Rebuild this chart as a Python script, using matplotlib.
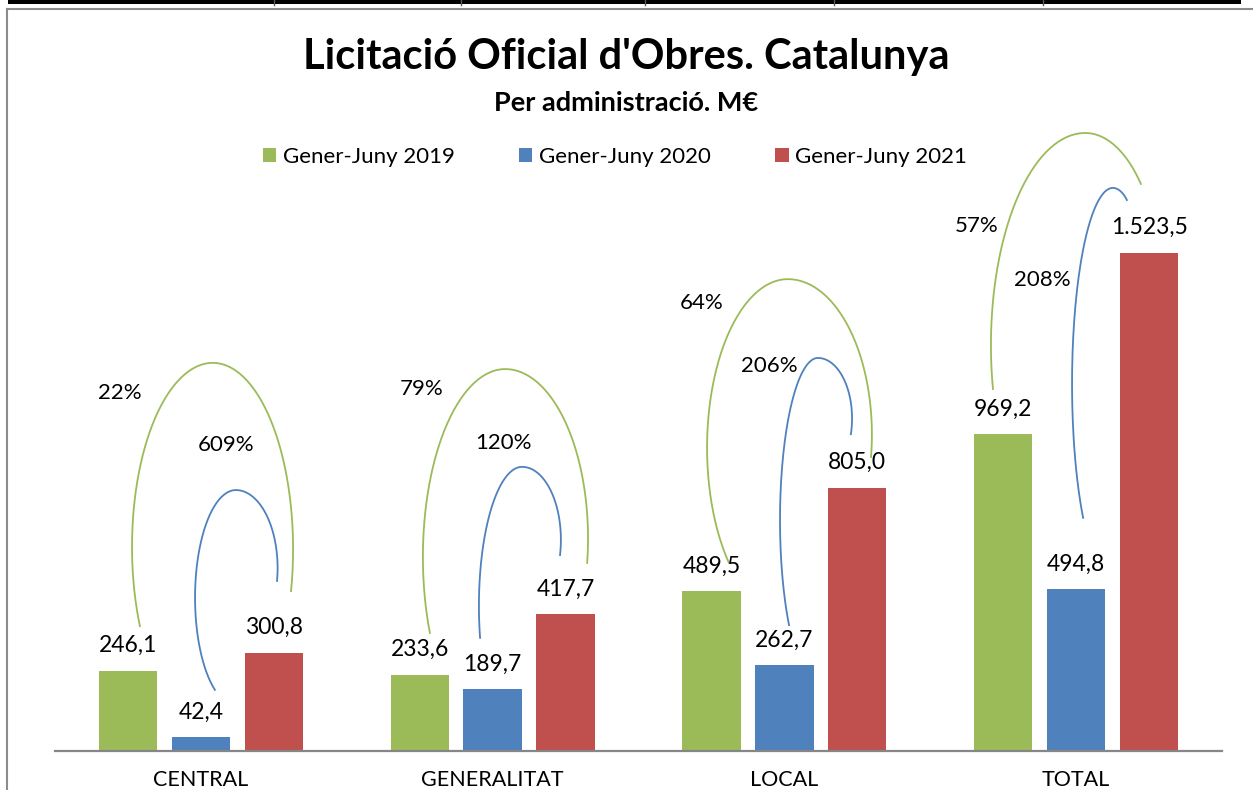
import numpy as np
import matplotlib.pyplot as plt
from matplotlib.lines import Line2D
from matplotlib.patches import Rectangle

plt.rcParams['font.family'] = ['Lato', 'DejaVu Sans']

# Data
categories = ['CENTRAL', 'GENERALITAT', 'LOCAL', 'TOTAL']
series_names = ['Gener-Juny 2019', 'Gener-Juny 2020', 'Gener-Juny 2021']
values_2019 = [246.1, 233.6, 489.5, 969.2]
values_2020 = [42.4, 189.7, 262.7, 494.8]
values_2021 = [300.8, 417.7, 805.0, 1523.5]
colors = ['#9BBB59', '#4F81BD', '#C0504D']

# Arc shapes (x relative to the group centre, y in M€):
# start, peak, end, left extent, right extent, right side goes past its widest point
green_arcs = [
    ((-0.209, 382), (0.041, 1187), (0.309, 489), -0.236, 0.316, True),
    ((-0.215, 361), (0.043, 1168), (0.324, 575), -0.239, 0.327, True),
    ((-0.190, 575), (0.012, 1443), (0.297, 899), -0.265, 0.300, True),
    ((-0.285, 1107), (0.031, 1890), (0.222, 1734), -0.292, 0.288, False),
]
blue_arcs = [
    ((0.048, 187), (0.120, 798), (0.261, 520), -0.020, 0.263, True),
    ((-0.043, 346), (0.101, 869), (0.231, 599), -0.047, 0.234, True),
    ((0.016, 385), (0.115, 1202), (0.228, 969), -0.015, 0.232, True),
    ((0.024, 713), (0.126, 1722), (0.174, 1685), -0.014, 0.202, False),
]
# where the growth labels sit (x relative to group centre, y in M€)
green_pct_pos = [(-0.277, 1095), (-0.242, 1107), (-0.282, 1370), (-0.340, 1606)]
blue_pct_pos = [(0.086, 936), (0.036, 942), (-0.053, 1177), (-0.117, 1440)]


def fmt(v):
    s = f'{v:,.1f}'
    return s.replace(',', 'X').replace('.', ',').replace('X', '.')


def arc_curve(cx, s, p, e, xl, xr, right_past):
    sx, sy = s[0] + cx, s[1]
    px, py = p[0] + cx, p[1]
    ex, ey = e[0] + cx, e[1]
    xl, xr = xl + cx, xr + cx
    # left quarter (runs past its widest point)
    aL = px - xl
    kL = np.sqrt(max(0.0, 1 - ((px - sx) / aL) ** 2))
    cyL = (sy + kL * py) / (1 + kL)
    bL = py - cyL
    tS = np.arctan2((sy - cyL) / bL, (sx - px) / aL) % (2 * np.pi)
    t1 = np.linspace(tS, np.pi / 2, 80)
    x1 = px + aL * np.cos(t1)
    y1 = cyL + bL * np.sin(t1)
    # right quarter
    aR = max(xr - px, abs(ex - px) * 1.001)
    kR = np.sqrt(max(0.0, 1 - ((ex - px) / aR) ** 2))
    if right_past:
        cyR = (ey + kR * py) / (1 + kR)
    else:
        cyR = (ey - kR * py) / (1 - kR)
    bR = py - cyR
    tE = np.arctan2((ey - cyR) / bR, (ex - px) / aR)
    t2 = np.linspace(np.pi / 2, tE, 80)
    x2 = px + aR * np.cos(t2)
    y2 = cyR + bR * np.sin(t2)
    return np.concatenate([x1, x2]), np.concatenate([y1, y2])


fig = plt.figure(figsize=(12.53, 7.9), dpi=100)
ax = fig.add_axes([55 / 1253, 39 / 790, 1167 / 1253, 654 / 790])

x = np.arange(len(categories))
width = 0.2
offsets = [-0.25, 0, 0.25]
all_series = [values_2019, values_2020, values_2021]

for vals, name, col, off in zip(all_series, series_names, colors, offsets):
    bars = ax.bar(x + off, vals, width, color=col, label=name)
    for b, v in zip(bars, vals):
        ax.annotate(fmt(v), (b.get_x() + b.get_width() / 2, v), xytext=(0, 18),
                    textcoords='offset points', ha='center', va='center',
                    fontsize=16.5, color='black', annotation_clip=False)

# growth arcs and percentages 2021 vs 2019 / 2020
for i in range(len(categories)):
    for arcs, pos, base, col in [(green_arcs, green_pct_pos, values_2019, colors[0]),
                                 (blue_arcs, blue_pct_pos, values_2020, colors[1])]:
        xs, ys = arc_curve(x[i], *arcs[i])
        ax.plot(xs, ys, color=col, lw=1.3, clip_on=False)
        pct = (values_2021[i] / base[i] - 1) * 100
        ax.text(x[i] + pos[i][0], pos[i][1], f'{pct:.0f}%', ha='center', va='center',
                fontsize=16, color='black')

ax.set_xlim(-0.5, 3.5)
ax.set_ylim(0, 2000)
ax.set_xticks(x)
ax.set_xticklabels(categories, fontsize=15.5)
ax.tick_params(axis='x', length=0, pad=14)
ax.set_yticks([])
for sp in ['top', 'left', 'right']:
    ax.spines[sp].set_visible(False)
ax.spines['bottom'].set_color('#868686')
ax.spines['bottom'].set_linewidth(1.6)

fig.text(0.5, 1 - 57 / 790, "Licitació Oficial d'Obres. Catalunya", ha='center', va='center',
         fontsize=30, fontweight='bold')
fig.text(0.5, 1 - 103 / 790, 'Per administració. M€', ha='center', va='center',
         fontsize=19.5, fontweight='bold')

fig.legend(loc='center', bbox_to_anchor=(615 / 1253, 1 - 157 / 790), ncol=3, frameon=False,
           fontsize=16, handlelength=0.6, handleheight=0.6, handletextpad=0.3,
           columnspacing=2.9)

# chart frame and the table border above it
fig.add_artist(Line2D([7 / 1253, 1], [1 - 8.5 / 790, 1 - 8.5 / 790], color='#8c8c8c', lw=1.5))
fig.add_artist(Line2D([7 / 1253, 7 / 1253], [0, 1 - 8.5 / 790], color='#8c8c8c', lw=1.5))
fig.add_artist(Rectangle((8 / 1253, 1 - 4 / 790), (1241 - 8) / 1253, 4 / 790,
                         transform=fig.transFigure, color='black', lw=0))
for xv in [274, 461, 645, 834, 1043]:
    fig.add_artist(Line2D([xv / 1253, xv / 1253], [1 - 5 / 790, 1], color='#555555', lw=1))

fig.savefig('out.png', dpi=100)
